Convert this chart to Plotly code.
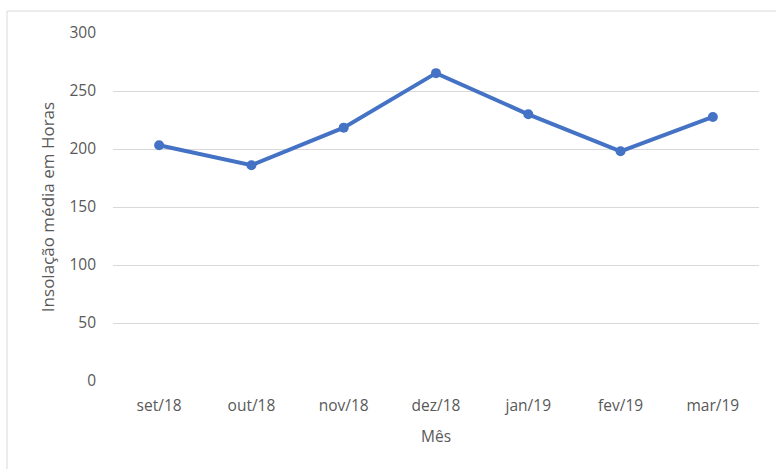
import plotly.graph_objects as go

months = ["set/18", "out/18", "nov/18", "dez/18", "jan/19", "fev/19", "mar/19"]
insolacao = [203.2, 186.0, 218.4, 265.4, 229.9, 198.0, 227.6]
y_ticks = [0, 50, 100, 150, 200, 250, 300]

W, H = 776, 469
L, R, T, B = 113, 17, 32.5, 87.7
pw, ph = W - L - R, H - T - B

fig = go.Figure(go.Scatter(
    x=months, y=insolacao, mode="lines+markers",
    line=dict(color="#4472C4", width=4),
    marker=dict(color="#4472C4", size=10),
))

font = dict(family="Open Sans, sans-serif", size=15.5, color="#595959")
title_font_y = dict(family="Open Sans, sans-serif", size=17, color="#595959")

fig.update_layout(
    width=W, height=H,
    margin=dict(l=L, r=R, t=T, b=B),
    paper_bgcolor="white", plot_bgcolor="white",
    showlegend=False,
    font=font,
    xaxis=dict(
        range=[-0.5, len(months) - 0.5],
        showgrid=False, zeroline=False, showline=False, ticks="",
        ticklabelstandoff=13,
        title=dict(text="Mês", font=font, standoff=16),
        tickfont=font,
    ),
    yaxis=dict(
        range=[0, 300], tickvals=y_ticks, showgrid=True, gridcolor="#d9d9d9",
        gridwidth=1, zeroline=False, showline=False, ticks="",
        ticklabelstandoff=16,
        title=dict(text="Insolação média em Horas", font=title_font_y, standoff=10),
        tickfont=font,
    ),
    shapes=[dict(
        type="rect", xref="paper", yref="paper",
        x0=(7 - L) / pw, x1=(W + 10 - L) / pw,
        y0=-(H + 10 - (H - B)) / ph, y1=(H - B - 10.5) / ph,
        line=dict(color="#d9d9d9", width=1), fillcolor="rgba(0,0,0,0)", layer="below",
    )],
)

fig.write_html("out.html")
